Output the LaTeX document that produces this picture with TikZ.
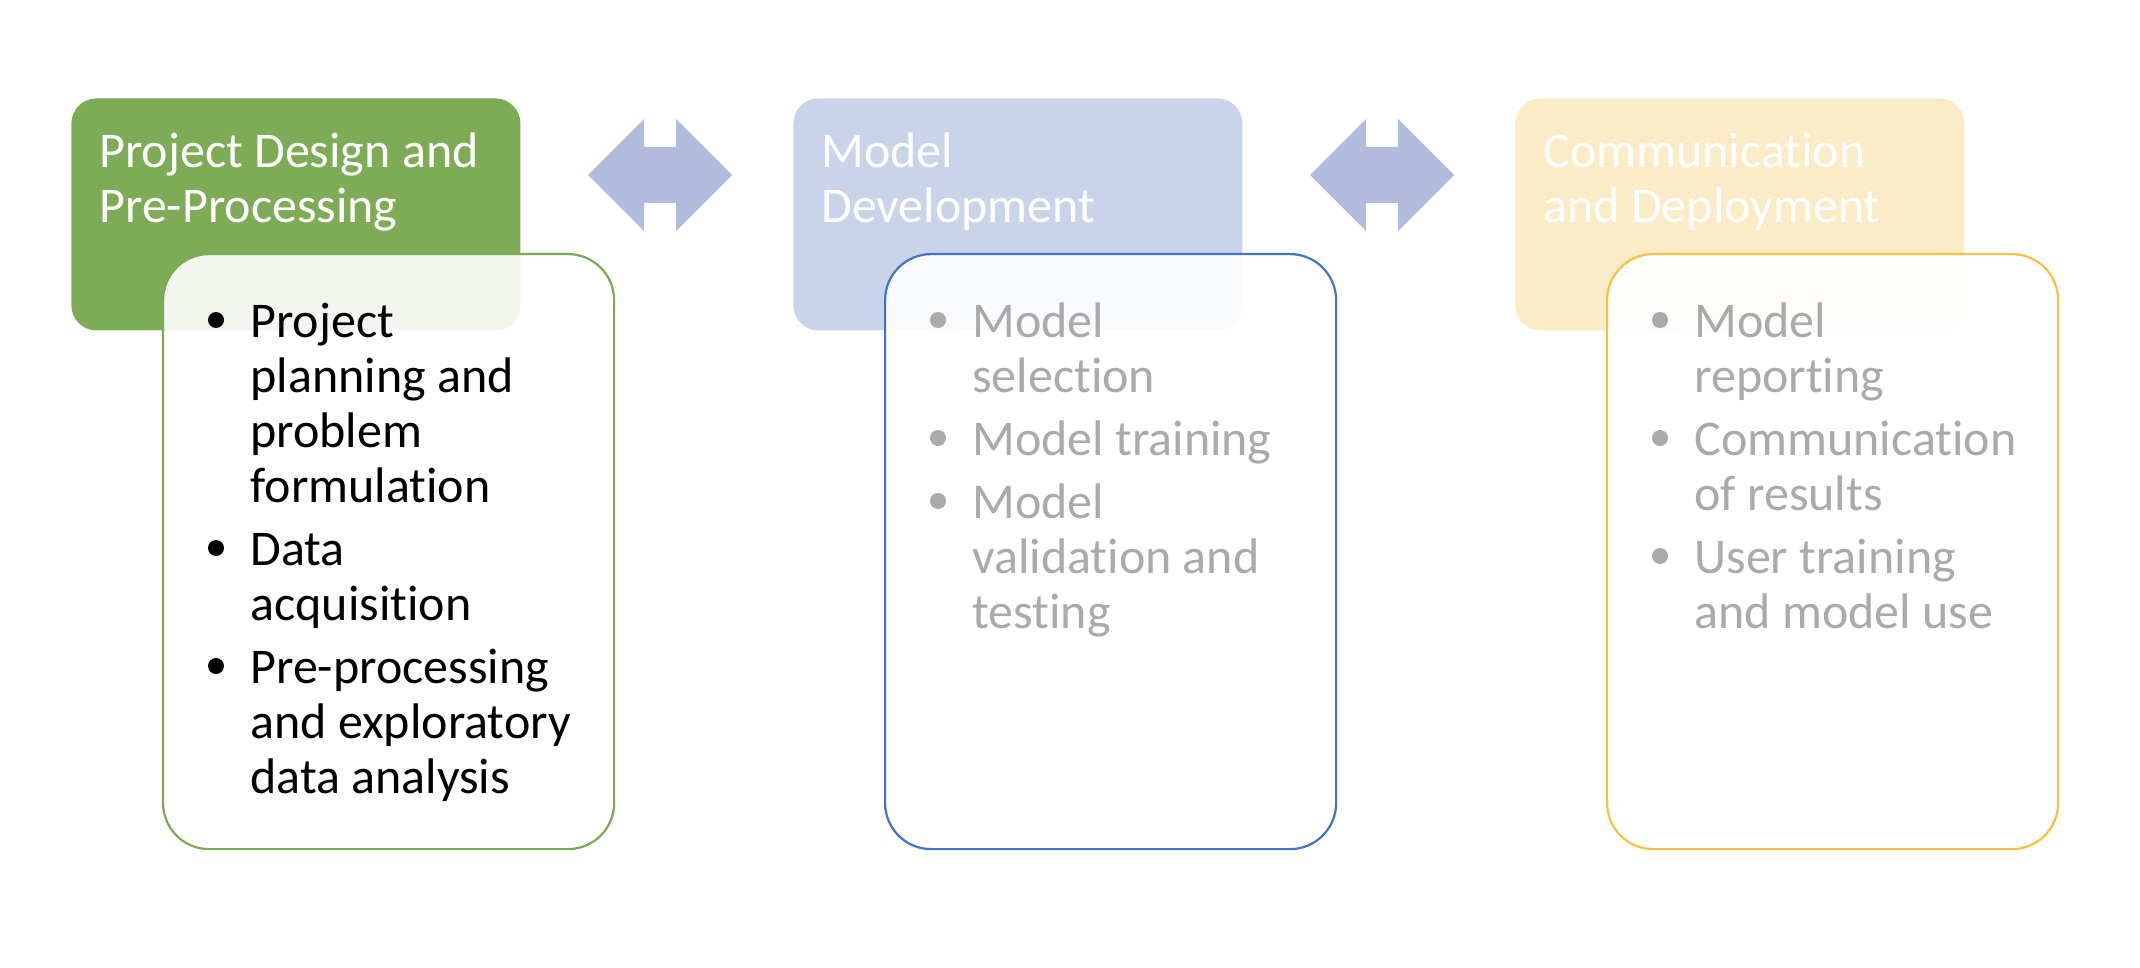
\documentclass[tikz,border=0pt]{standalone}
\usepackage{fontspec}
\setmainfont{Carlito}[Ligatures=NoCommon]
\definecolor{hdrgreen}{HTML}{7EAB55}
\definecolor{hdrblue}{HTML}{C9D4EB}
\definecolor{hdrgold}{HTML}{FBEBC6}
\definecolor{brdgreen}{HTML}{7BAA55}
\definecolor{brdblue}{HTML}{4472C4}
\definecolor{brdgold}{HTML}{F5C143}
\definecolor{arrowc}{HTML}{B1BCDC}
\definecolor{graytxt}{HTML}{AAAAAA}
\tikzset{
  hdrbox/.style={rectangle, rounded corners=12.5pt, minimum width=224.5pt, minimum height=116pt, anchor=north west, inner sep=0pt, draw=none},
  bodybox/.style={rectangle, rounded corners=23pt, minimum width=225.5pt, minimum height=297.5pt, anchor=north west, inner sep=0pt, fill=white, fill opacity=0.9, line width=1.1pt},
  txt/.style={anchor=base west, inner sep=0pt, font=\fontsize{25pt}{27.5pt}\selectfont},
  htxt/.style={txt, text=white},
  btxt/.style={txt, text=black},
  gtxt/.style={txt, text=graytxt},
  dotblack/.style={circle, fill=black, inner sep=0pt, minimum size=8pt},
  dotgray/.style={circle, fill=graytxt, inner sep=0pt, minimum size=8pt},
  dblarrow/.style={fill=arrowc, draw=none}
}
\begin{document}
\begin{tikzpicture}[x=0.5pt, y=-0.5pt]
\useasboundingbox (0,0) rectangle (2140,968);
\fill[white] (0,0) rectangle (2140,968);

% headers
\node[hdrbox, fill=hdrgreen] (h1) at (71,98) {};
\node[hdrbox, fill=hdrblue] (h2) at (793,98) {};
\node[hdrbox, fill=hdrgold] (h3) at (1515,98) {};

\node[htxt] (h1a) at (99,168) {Project Design and};
\node[htxt] (h1b) at (99,223) {Pre-Processing};
\node[htxt] (h2a) at (821,168) {Model};
\node[htxt] (h2b) at (821,223) {Development};
\node[htxt] (h3a) at (1543,168) {Communication};
\node[htxt] (h3b) at (1543,223) {and Deployment};

% arrows
\fill[dblarrow] (588,175) -- (644,119) -- (644,147) -- (676,147) -- (676,119) -- (732,175)
  -- (676,231) -- (676,203) -- (644,203) -- (644,231) -- cycle;
\fill[dblarrow] (1310,175) -- (1366,119) -- (1366,147) -- (1398,147) -- (1398,119) -- (1454,175)
  -- (1398,231) -- (1398,203) -- (1366,203) -- (1366,231) -- cycle;

% bodies
\node[bodybox, draw=brdgreen] (b1) at (162,253) {};
\node[bodybox, draw=brdblue] (b2) at (884,253) {};
\node[bodybox, draw=brdgold] (b3) at (1606,253) {};

% body 1 text
\node[dotblack] (d11) at (216,320) {};
\node[btxt] (t11a) at (250,337) {Project};
\node[btxt] (t11b) at (250,392) {planning and};
\node[btxt] (t11c) at (250,447) {problem};
\node[btxt] (t11d) at (250,502) {formulation};
\node[dotblack] (d12) at (216,548) {};
\node[btxt] (t12a) at (250,565) {Data};
\node[btxt] (t12b) at (250,620) {acquisition};
\node[dotblack] (d13) at (216,666) {};
\node[btxt] (t13a) at (250,683) {Pre-processing};
\node[btxt] (t13b) at (250,738) {and exploratory};
\node[btxt] (t13c) at (250,793) {data analysis};

% body 2 text
\node[dotgray] (d21) at (938,320) {};
\node[gtxt] (t21a) at (972,337) {Model};
\node[gtxt] (t21b) at (972,392) {selection};
\node[dotgray] (d22) at (938,438) {};
\node[gtxt] (t22a) at (972,455) {Model training};
\node[dotgray] (d23) at (938,501) {};
\node[gtxt] (t23a) at (972,518) {Model};
\node[gtxt] (t23b) at (972,573) {validation and};
\node[gtxt] (t23c) at (972,628) {testing};

% body 3 text
\node[dotgray] (d31) at (1660,320) {};
\node[gtxt] (t31a) at (1694,337) {Model};
\node[gtxt] (t31b) at (1694,392) {reporting};
\node[dotgray] (d32) at (1660,438) {};
\node[gtxt] (t32a) at (1694,455) {Communication};
\node[gtxt] (t32b) at (1694,510) {of results};
\node[dotgray] (d33) at (1660,556) {};
\node[gtxt] (t33a) at (1694,573) {User training};
\node[gtxt] (t33b) at (1694,628) {and model use};
\end{tikzpicture}
\end{document}
